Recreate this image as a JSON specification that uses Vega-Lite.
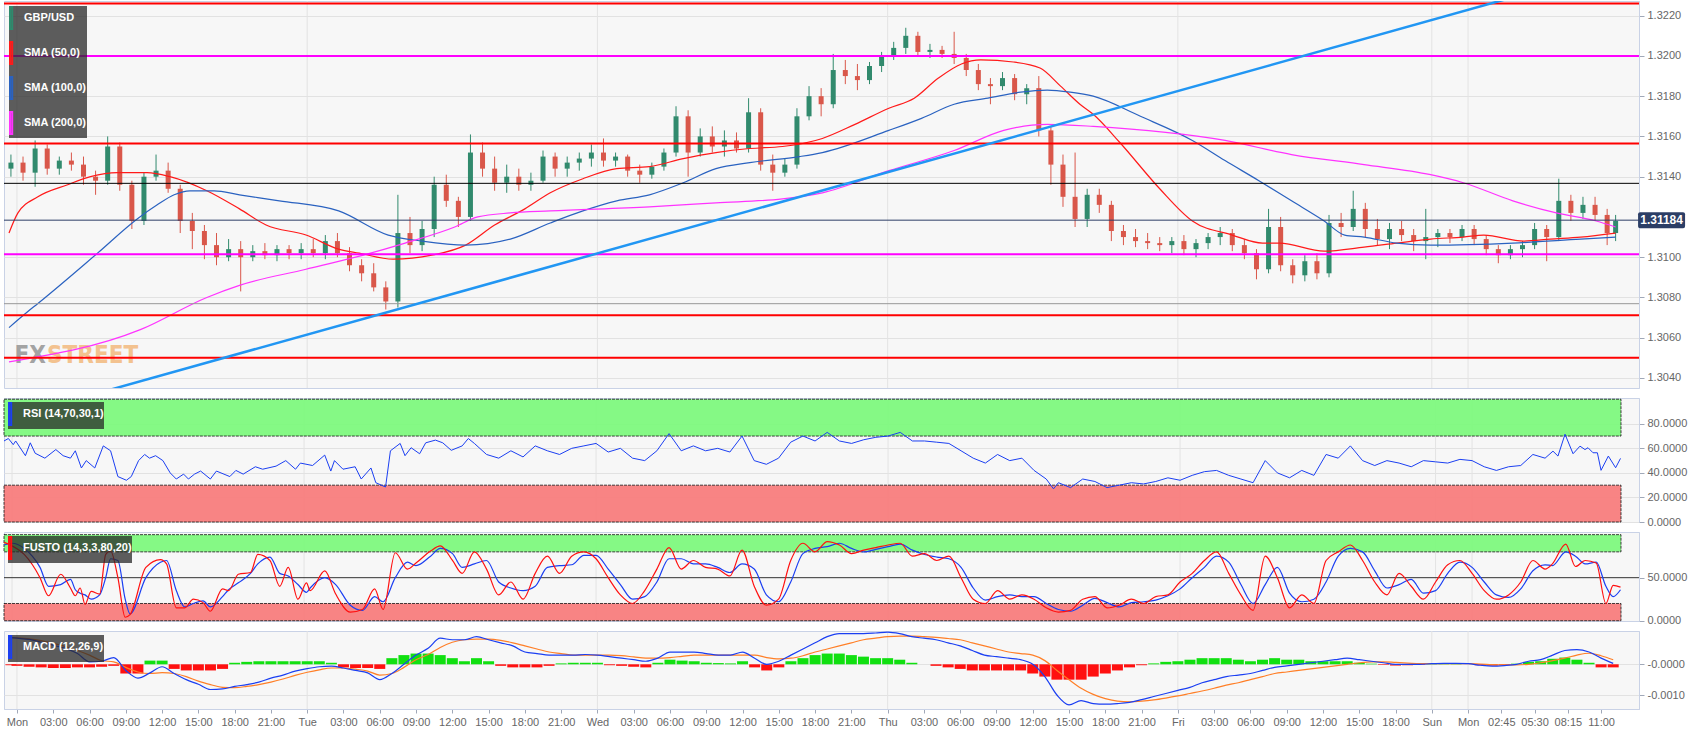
{
"$schema": "https://vega.github.io/schema/vega-lite/v6.json",
"padding": {"left": 1, "top": 0, "right": 5, "bottom": 5},
"background": "#ffffff",
"spacing": 10,
"bounds": "flush",
"resolve": {"scale": {"color": "independent"}, "legend": {"color": "independent"}},
"config": {
  "view": {"fill": "#f7f7f7", "stroke": "#c9d2e6", "strokeWidth": 1},
  "font": "Liberation Sans",
  "axis": {"labelFont": "Liberation Sans", "labelFontSize": 11, "labelColor": "#666666", "tickColor": "#a0a8b8", "tickSize": 5, "domainColor": "#c9d2e6", "gridColor": "#e2e2e2", "labelPadding": 3, "labelOverlap": false},
  "legend": {"padding": 0, "fillColor": "rgba(40,40,40,0.75)", "labelColor": "#ffffff", "labelFont": "Liberation Sans", "labelFontSize": 11, "labelFontWeight": "bold", "symbolSize": 484, "symbolStrokeWidth": 2, "labelOffset": -9, "rowPadding": 5}
},
"datasets": {
  "days": [{"h":0},{"h":24},{"h":48},{"h":72},{"h":96},{"h":117},{"h":120}],
  "candles": [
{"h":-0.5,"o":1.3144,"hi":1.3151,"lo":1.314,"c":1.3147},
{"h":0.5,"o":1.3147,"hi":1.315,"lo":1.3138,"c":1.3142},
{"h":1.5,"o":1.3142,"hi":1.3158,"lo":1.3135,"c":1.3154},
{"h":2.5,"o":1.3154,"hi":1.3156,"lo":1.3141,"c":1.3144},
{"h":3.5,"o":1.3144,"hi":1.315,"lo":1.3141,"c":1.3148},
{"h":4.5,"o":1.3148,"hi":1.3152,"lo":1.3143,"c":1.3146},
{"h":5.5,"o":1.3146,"hi":1.315,"lo":1.3136,"c":1.314},
{"h":6.5,"o":1.314,"hi":1.3143,"lo":1.3131,"c":1.3138},
{"h":7.5,"o":1.3138,"hi":1.316,"lo":1.3136,"c":1.3155},
{"h":8.5,"o":1.3155,"hi":1.3157,"lo":1.3133,"c":1.3136},
{"h":9.5,"o":1.3136,"hi":1.3138,"lo":1.3114,"c":1.3118},
{"h":10.5,"o":1.3118,"hi":1.3142,"lo":1.3116,"c":1.314},
{"h":11.5,"o":1.314,"hi":1.3151,"lo":1.3138,"c":1.3143},
{"h":12.5,"o":1.3143,"hi":1.3147,"lo":1.3132,"c":1.3134},
{"h":13.5,"o":1.3134,"hi":1.3136,"lo":1.3112,"c":1.3118},
{"h":14.5,"o":1.3118,"hi":1.3122,"lo":1.3104,"c":1.3113},
{"h":15.5,"o":1.3113,"hi":1.3116,"lo":1.3099,"c":1.3106},
{"h":16.5,"o":1.3106,"hi":1.3112,"lo":1.3096,"c":1.31},
{"h":17.5,"o":1.31,"hi":1.3109,"lo":1.3098,"c":1.3104},
{"h":18.5,"o":1.3104,"hi":1.3108,"lo":1.3083,"c":1.31},
{"h":19.5,"o":1.31,"hi":1.3106,"lo":1.3098,"c":1.3103},
{"h":20.5,"o":1.3103,"hi":1.3107,"lo":1.3099,"c":1.3101},
{"h":21.5,"o":1.3101,"hi":1.3106,"lo":1.3098,"c":1.3104},
{"h":22.5,"o":1.3104,"hi":1.3106,"lo":1.3099,"c":1.3102},
{"h":23.5,"o":1.3102,"hi":1.3107,"lo":1.3099,"c":1.3104},
{"h":24.5,"o":1.3104,"hi":1.3109,"lo":1.31,"c":1.3102},
{"h":25.5,"o":1.3102,"hi":1.3111,"lo":1.3099,"c":1.3108},
{"h":26.5,"o":1.3108,"hi":1.3112,"lo":1.31,"c":1.3102},
{"h":27.5,"o":1.3102,"hi":1.3105,"lo":1.3093,"c":1.3096},
{"h":28.5,"o":1.3096,"hi":1.3099,"lo":1.3088,"c":1.3092},
{"h":29.5,"o":1.3092,"hi":1.3097,"lo":1.3083,"c":1.3085},
{"h":30.5,"o":1.3085,"hi":1.3088,"lo":1.3074,"c":1.3078},
{"h":31.5,"o":1.3078,"hi":1.3131,"lo":1.3075,"c":1.3112},
{"h":32.5,"o":1.3112,"hi":1.312,"lo":1.3102,"c":1.3106},
{"h":33.5,"o":1.3106,"hi":1.3118,"lo":1.3103,"c":1.3114},
{"h":34.5,"o":1.3114,"hi":1.314,"lo":1.311,"c":1.3136},
{"h":35.5,"o":1.3136,"hi":1.3141,"lo":1.3125,"c":1.3128},
{"h":36.5,"o":1.3128,"hi":1.313,"lo":1.3115,"c":1.312},
{"h":37.5,"o":1.312,"hi":1.3161,"lo":1.3118,"c":1.3152},
{"h":38.5,"o":1.3152,"hi":1.3157,"lo":1.314,"c":1.3144},
{"h":39.5,"o":1.3144,"hi":1.315,"lo":1.3133,"c":1.3137},
{"h":40.5,"o":1.3137,"hi":1.3146,"lo":1.3132,"c":1.314},
{"h":41.5,"o":1.314,"hi":1.3144,"lo":1.3133,"c":1.3136},
{"h":42.5,"o":1.3136,"hi":1.3142,"lo":1.3133,"c":1.3138},
{"h":43.5,"o":1.3138,"hi":1.3153,"lo":1.3137,"c":1.315},
{"h":44.5,"o":1.315,"hi":1.3152,"lo":1.314,"c":1.3144},
{"h":45.5,"o":1.3144,"hi":1.315,"lo":1.314,"c":1.3147},
{"h":46.5,"o":1.3147,"hi":1.3152,"lo":1.3143,"c":1.3149},
{"h":47.5,"o":1.3149,"hi":1.3156,"lo":1.3145,"c":1.3152},
{"h":48.5,"o":1.3152,"hi":1.3159,"lo":1.3145,"c":1.3148},
{"h":49.5,"o":1.3148,"hi":1.3152,"lo":1.3145,"c":1.315},
{"h":50.5,"o":1.315,"hi":1.3151,"lo":1.314,"c":1.3143},
{"h":51.5,"o":1.3143,"hi":1.3146,"lo":1.3137,"c":1.3141},
{"h":52.5,"o":1.3141,"hi":1.3147,"lo":1.3139,"c":1.3145},
{"h":53.5,"o":1.3145,"hi":1.3154,"lo":1.3143,"c":1.3152},
{"h":54.5,"o":1.3152,"hi":1.3175,"lo":1.315,"c":1.317},
{"h":55.5,"o":1.317,"hi":1.3173,"lo":1.314,"c":1.3152},
{"h":56.5,"o":1.3152,"hi":1.3164,"lo":1.315,"c":1.316},
{"h":57.5,"o":1.316,"hi":1.3165,"lo":1.3152,"c":1.3155},
{"h":58.5,"o":1.3155,"hi":1.3163,"lo":1.315,"c":1.3158},
{"h":59.5,"o":1.3158,"hi":1.3162,"lo":1.3152,"c":1.3154},
{"h":60.5,"o":1.3154,"hi":1.3179,"lo":1.3152,"c":1.3172},
{"h":61.5,"o":1.3172,"hi":1.3174,"lo":1.3143,"c":1.3146},
{"h":62.5,"o":1.3146,"hi":1.3151,"lo":1.3133,"c":1.3142},
{"h":63.5,"o":1.3142,"hi":1.3149,"lo":1.314,"c":1.3146},
{"h":64.5,"o":1.3146,"hi":1.3174,"lo":1.3144,"c":1.317},
{"h":65.5,"o":1.317,"hi":1.3185,"lo":1.3168,"c":1.318},
{"h":66.5,"o":1.318,"hi":1.3184,"lo":1.317,"c":1.3176},
{"h":67.5,"o":1.3176,"hi":1.3201,"lo":1.3174,"c":1.3193},
{"h":68.5,"o":1.3193,"hi":1.3198,"lo":1.3186,"c":1.319},
{"h":69.5,"o":1.319,"hi":1.3196,"lo":1.3183,"c":1.3188},
{"h":70.5,"o":1.3188,"hi":1.3197,"lo":1.3186,"c":1.3195},
{"h":71.5,"o":1.3195,"hi":1.3202,"lo":1.3192,"c":1.32},
{"h":72.5,"o":1.32,"hi":1.3207,"lo":1.3198,"c":1.3204},
{"h":73.5,"o":1.3204,"hi":1.3214,"lo":1.3201,"c":1.321},
{"h":74.5,"o":1.321,"hi":1.3212,"lo":1.32,"c":1.3202},
{"h":75.5,"o":1.3202,"hi":1.3206,"lo":1.3199,"c":1.3203},
{"h":76.5,"o":1.3203,"hi":1.3205,"lo":1.3199,"c":1.3201},
{"h":77.5,"o":1.3201,"hi":1.3212,"lo":1.3196,"c":1.3199},
{"h":78.5,"o":1.3199,"hi":1.3201,"lo":1.319,"c":1.3193},
{"h":79.5,"o":1.3193,"hi":1.3196,"lo":1.3183,"c":1.3186},
{"h":80.5,"o":1.3186,"hi":1.3189,"lo":1.3176,"c":1.3185},
{"h":81.5,"o":1.3185,"hi":1.3192,"lo":1.3183,"c":1.3189},
{"h":82.5,"o":1.3189,"hi":1.3191,"lo":1.3178,"c":1.3181},
{"h":83.5,"o":1.3181,"hi":1.3186,"lo":1.3176,"c":1.3184},
{"h":84.5,"o":1.3184,"hi":1.319,"lo":1.316,"c":1.3163},
{"h":85.5,"o":1.3163,"hi":1.3165,"lo":1.3136,"c":1.3146},
{"h":86.5,"o":1.3146,"hi":1.3151,"lo":1.3125,"c":1.313},
{"h":87.5,"o":1.313,"hi":1.3152,"lo":1.3115,"c":1.3119},
{"h":88.5,"o":1.3119,"hi":1.3134,"lo":1.3115,"c":1.3131},
{"h":89.5,"o":1.3131,"hi":1.3134,"lo":1.3122,"c":1.3126},
{"h":90.5,"o":1.3126,"hi":1.3128,"lo":1.3108,"c":1.3113},
{"h":91.5,"o":1.3113,"hi":1.3116,"lo":1.3106,"c":1.311},
{"h":92.5,"o":1.311,"hi":1.3114,"lo":1.3105,"c":1.3108},
{"h":93.5,"o":1.3108,"hi":1.3112,"lo":1.3104,"c":1.3107},
{"h":94.5,"o":1.3107,"hi":1.311,"lo":1.3103,"c":1.3106},
{"h":95.5,"o":1.3106,"hi":1.311,"lo":1.3102,"c":1.3108},
{"h":96.5,"o":1.3108,"hi":1.3111,"lo":1.3101,"c":1.3104},
{"h":97.5,"o":1.3104,"hi":1.3109,"lo":1.31,"c":1.3107},
{"h":98.5,"o":1.3107,"hi":1.3112,"lo":1.3104,"c":1.311},
{"h":99.5,"o":1.311,"hi":1.3115,"lo":1.3106,"c":1.3112},
{"h":100.5,"o":1.3112,"hi":1.3114,"lo":1.3103,"c":1.3106},
{"h":101.5,"o":1.3106,"hi":1.3109,"lo":1.3099,"c":1.3102},
{"h":102.5,"o":1.3102,"hi":1.3104,"lo":1.3089,"c":1.3094},
{"h":103.5,"o":1.3094,"hi":1.3124,"lo":1.3092,"c":1.3115},
{"h":104.5,"o":1.3115,"hi":1.312,"lo":1.3093,"c":1.3096},
{"h":105.5,"o":1.3096,"hi":1.3099,"lo":1.3087,"c":1.3091},
{"h":106.5,"o":1.3091,"hi":1.3101,"lo":1.3088,"c":1.3098},
{"h":107.5,"o":1.3098,"hi":1.3102,"lo":1.3089,"c":1.3092},
{"h":108.5,"o":1.3092,"hi":1.3121,"lo":1.309,"c":1.3117},
{"h":109.5,"o":1.3117,"hi":1.3122,"lo":1.311,"c":1.3115},
{"h":110.5,"o":1.3115,"hi":1.3133,"lo":1.3113,"c":1.3124},
{"h":111.5,"o":1.3124,"hi":1.3127,"lo":1.311,"c":1.3114},
{"h":112.5,"o":1.3114,"hi":1.3119,"lo":1.3106,"c":1.3109},
{"h":113.5,"o":1.3109,"hi":1.3117,"lo":1.3104,"c":1.3114},
{"h":114.5,"o":1.3114,"hi":1.3118,"lo":1.3108,"c":1.3111},
{"h":115.5,"o":1.3111,"hi":1.3114,"lo":1.3103,"c":1.3108},
{"h":116.5,"o":1.3108,"hi":1.3124,"lo":1.3099,"c":1.311},
{"h":117.5,"o":1.311,"hi":1.3114,"lo":1.3105,"c":1.3112},
{"h":118.5,"o":1.3112,"hi":1.3114,"lo":1.3107,"c":1.311},
{"h":119.5,"o":1.311,"hi":1.3116,"lo":1.3108,"c":1.3114},
{"h":120.5,"o":1.3114,"hi":1.3116,"lo":1.3106,"c":1.3109},
{"h":121.5,"o":1.3109,"hi":1.3111,"lo":1.3101,"c":1.3104},
{"h":122.5,"o":1.3104,"hi":1.3106,"lo":1.3097,"c":1.3101},
{"h":123.5,"o":1.3101,"hi":1.3106,"lo":1.3099,"c":1.3104},
{"h":124.5,"o":1.3104,"hi":1.3108,"lo":1.31,"c":1.3106},
{"h":125.5,"o":1.3106,"hi":1.3117,"lo":1.3104,"c":1.3114},
{"h":126.5,"o":1.3114,"hi":1.3116,"lo":1.3098,"c":1.311},
{"h":127.5,"o":1.311,"hi":1.3139,"lo":1.3108,"c":1.3128},
{"h":128.5,"o":1.3128,"hi":1.3131,"lo":1.3118,"c":1.3122},
{"h":129.5,"o":1.3122,"hi":1.313,"lo":1.3119,"c":1.3126},
{"h":130.5,"o":1.3126,"hi":1.313,"lo":1.3118,"c":1.3121},
{"h":131.5,"o":1.3121,"hi":1.3124,"lo":1.3106,"c":1.3112},
{"h":132.2,"o":1.3112,"hi":1.3121,"lo":1.3108,"c":1.3118}
  ],
  "sma": [
{"s":"SMA (50,0)","h":-0.66,"v":1.3112},{"s":"SMA (50,0)","h":0.08,"v":1.3122},{"s":"SMA (50,0)","h":1.73,"v":1.313},{"s":"SMA (50,0)","h":4.19,"v":1.3136},{"s":"SMA (50,0)","h":6.08,"v":1.314},{"s":"SMA (50,0)","h":8.3,"v":1.3142},{"s":"SMA (50,0)","h":10.76,"v":1.3142},{"s":"SMA (50,0)","h":12.65,"v":1.314},{"s":"SMA (50,0)","h":15.7,"v":1.3133},{"s":"SMA (50,0)","h":18.4,"v":1.3124},{"s":"SMA (50,0)","h":20.6,"v":1.3116},{"s":"SMA (50,0)","h":23.9,"v":1.3111},{"s":"SMA (50,0)","h":26.6,"v":1.3104},{"s":"SMA (50,0)","h":28.3,"v":1.3102},{"s":"SMA (50,0)","h":31.1,"v":1.3099},{"s":"SMA (50,0)","h":34.3,"v":1.3101},{"s":"SMA (50,0)","h":37.1,"v":1.3106},{"s":"SMA (50,0)","h":39.5,"v":1.3116},{"s":"SMA (50,0)","h":42.0,"v":1.3124},{"s":"SMA (50,0)","h":44.1,"v":1.3132},{"s":"SMA (50,0)","h":46.8,"v":1.3139},{"s":"SMA (50,0)","h":49.6,"v":1.3144},{"s":"SMA (50,0)","h":52.3,"v":1.3145},{"s":"SMA (50,0)","h":55.1,"v":1.3149},{"s":"SMA (50,0)","h":57.8,"v":1.3152},{"s":"SMA (50,0)","h":60.6,"v":1.3154},{"s":"SMA (50,0)","h":63.3,"v":1.3155},{"s":"SMA (50,0)","h":66.6,"v":1.3159},{"s":"SMA (50,0)","h":69.3,"v":1.3166},{"s":"SMA (50,0)","h":72.1,"v":1.3174},{"s":"SMA (50,0)","h":74.2,"v":1.3179},{"s":"SMA (50,0)","h":76.2,"v":1.3189},{"s":"SMA (50,0)","h":78.1,"v":1.3196},{"s":"SMA (50,0)","h":79.7,"v":1.3198},{"s":"SMA (50,0)","h":82.4,"v":1.3197},{"s":"SMA (50,0)","h":84.6,"v":1.3194},{"s":"SMA (50,0)","h":86.3,"v":1.3185},{"s":"SMA (50,0)","h":87.9,"v":1.3176},{"s":"SMA (50,0)","h":89.0,"v":1.3171},{"s":"SMA (50,0)","h":91.2,"v":1.3157},{"s":"SMA (50,0)","h":94.5,"v":1.3134},{"s":"SMA (50,0)","h":97.2,"v":1.3118},{"s":"SMA (50,0)","h":100.5,"v":1.3111},{"s":"SMA (50,0)","h":103.0,"v":1.3107},{"s":"SMA (50,0)","h":104.4,"v":1.3107},{"s":"SMA (50,0)","h":108.1,"v":1.3103},{"s":"SMA (50,0)","h":111.4,"v":1.3105},{"s":"SMA (50,0)","h":114.1,"v":1.3107},{"s":"SMA (50,0)","h":116.9,"v":1.3109},{"s":"SMA (50,0)","h":119.6,"v":1.311},{"s":"SMA (50,0)","h":121.3,"v":1.3111},{"s":"SMA (50,0)","h":124.6,"v":1.3108},{"s":"SMA (50,0)","h":126.8,"v":1.3109},{"s":"SMA (50,0)","h":129.3,"v":1.311},{"s":"SMA (50,0)","h":132.2,"v":1.3112},
{"s":"SMA (100,0)","h":-0.66,"v":1.3065},{"s":"SMA (100,0)","h":0.9,"v":1.3073},{"s":"SMA (100,0)","h":1.73,"v":1.3077},{"s":"SMA (100,0)","h":6.66,"v":1.3102},{"s":"SMA (100,0)","h":9.94,"v":1.3119},{"s":"SMA (100,0)","h":11.6,"v":1.3126},{"s":"SMA (100,0)","h":13.0,"v":1.3131},{"s":"SMA (100,0)","h":14.3,"v":1.3133},{"s":"SMA (100,0)","h":16.3,"v":1.3133},{"s":"SMA (100,0)","h":18.4,"v":1.3131},{"s":"SMA (100,0)","h":21.7,"v":1.3128},{"s":"SMA (100,0)","h":26.6,"v":1.3123},{"s":"SMA (100,0)","h":30.7,"v":1.3111},{"s":"SMA (100,0)","h":33.5,"v":1.3108},{"s":"SMA (100,0)","h":37.1,"v":1.3106},{"s":"SMA (100,0)","h":40.8,"v":1.3109},{"s":"SMA (100,0)","h":44.1,"v":1.3117},{"s":"SMA (100,0)","h":46.8,"v":1.3123},{"s":"SMA (100,0)","h":49.6,"v":1.3128},{"s":"SMA (100,0)","h":52.3,"v":1.3131},{"s":"SMA (100,0)","h":55.1,"v":1.3137},{"s":"SMA (100,0)","h":57.8,"v":1.3144},{"s":"SMA (100,0)","h":60.6,"v":1.3147},{"s":"SMA (100,0)","h":64.7,"v":1.315},{"s":"SMA (100,0)","h":66.6,"v":1.3152},{"s":"SMA (100,0)","h":72.1,"v":1.3163},{"s":"SMA (100,0)","h":74.8,"v":1.3169},{"s":"SMA (100,0)","h":77.5,"v":1.3176},{"s":"SMA (100,0)","h":80.3,"v":1.3179},{"s":"SMA (100,0)","h":83.0,"v":1.3182},{"s":"SMA (100,0)","h":85.2,"v":1.3183},{"s":"SMA (100,0)","h":87.1,"v":1.3182},{"s":"SMA (100,0)","h":89.0,"v":1.318},{"s":"SMA (100,0)","h":92.9,"v":1.317},{"s":"SMA (100,0)","h":97.2,"v":1.3158},{"s":"SMA (100,0)","h":99.9,"v":1.3148},{"s":"SMA (100,0)","h":102.7,"v":1.3138},{"s":"SMA (100,0)","h":105.4,"v":1.3128},{"s":"SMA (100,0)","h":108.1,"v":1.3118},{"s":"SMA (100,0)","h":109.8,"v":1.3111},{"s":"SMA (100,0)","h":111.4,"v":1.311},{"s":"SMA (100,0)","h":114.1,"v":1.3107},{"s":"SMA (100,0)","h":116.9,"v":1.3106},{"s":"SMA (100,0)","h":123.7,"v":1.3107},{"s":"SMA (100,0)","h":129.3,"v":1.3109},{"s":"SMA (100,0)","h":132.2,"v":1.311},
{"s":"SMA (200,0)","h":-0.66,"v":1.3048},{"s":"SMA (200,0)","h":10.2,"v":1.3064},{"s":"SMA (200,0)","h":15.7,"v":1.308},{"s":"SMA (200,0)","h":18.4,"v":1.3086},{"s":"SMA (200,0)","h":23.9,"v":1.3094},{"s":"SMA (200,0)","h":28.0,"v":1.31},{"s":"SMA (200,0)","h":32.1,"v":1.3107},{"s":"SMA (200,0)","h":36.2,"v":1.3115},{"s":"SMA (200,0)","h":38.1,"v":1.312},{"s":"SMA (200,0)","h":40.8,"v":1.3122},{"s":"SMA (200,0)","h":44.1,"v":1.3123},{"s":"SMA (200,0)","h":52.3,"v":1.3125},{"s":"SMA (200,0)","h":57.8,"v":1.3127},{"s":"SMA (200,0)","h":63.3,"v":1.3129},{"s":"SMA (200,0)","h":66.6,"v":1.3132},{"s":"SMA (200,0)","h":72.1,"v":1.3143},{"s":"SMA (200,0)","h":77.5,"v":1.3153},{"s":"SMA (200,0)","h":81.6,"v":1.3163},{"s":"SMA (200,0)","h":85.2,"v":1.3166},{"s":"SMA (200,0)","h":89.0,"v":1.3165},{"s":"SMA (200,0)","h":99.9,"v":1.3158},{"s":"SMA (200,0)","h":105.4,"v":1.3151},{"s":"SMA (200,0)","h":111.4,"v":1.3146},{"s":"SMA (200,0)","h":116.9,"v":1.3141},{"s":"SMA (200,0)","h":119.6,"v":1.3137},{"s":"SMA (200,0)","h":123.7,"v":1.3128},{"s":"SMA (200,0)","h":127.3,"v":1.3122},{"s":"SMA (200,0)","h":130.6,"v":1.3118},{"s":"SMA (200,0)","h":132.2,"v":1.3115}
  ],
  "rsi": [
{"h":-0.66,"v":66},{"h":-0.3,"v":68},{"h":0.1,"v":63},{"h":0.3,"v":66},{"h":1.1,"v":54},{"h":1.5,"v":64.5},{"h":1.9,"v":56},{"h":2.7,"v":52},{"h":3.6,"v":59},{"h":4.2,"v":54},{"h":4.8,"v":52},{"h":5.2,"v":58},{"h":5.7,"v":44},{"h":6.1,"v":50},{"h":6.8,"v":44},{"h":7.5,"v":62},{"h":8.1,"v":58},{"h":8.7,"v":37},{"h":9.4,"v":34},{"h":9.8,"v":37},{"h":10.4,"v":50},{"h":10.9,"v":55},{"h":11.3,"v":52},{"h":11.8,"v":54},{"h":12.4,"v":50},{"h":13.0,"v":40},{"h":13.5,"v":35},{"h":14.1,"v":39},{"h":14.5,"v":35},{"h":15.0,"v":39},{"h":15.5,"v":41.5},{"h":16.3,"v":35},{"h":16.8,"v":41.5},{"h":17.9,"v":37},{"h":18.4,"v":42},{"h":19.0,"v":39},{"h":20.0,"v":45},{"h":20.6,"v":43},{"h":21.7,"v":45.5},{"h":22.5,"v":50},{"h":23.3,"v":43},{"h":23.7,"v":48},{"h":24.7,"v":46},{"h":25.7,"v":54.5},{"h":26.2,"v":41.5},{"h":26.5,"v":50},{"h":27.2,"v":43},{"h":28.2,"v":45},{"h":28.7,"v":35},{"h":29.5,"v":44},{"h":29.9,"v":32},{"h":30.7,"v":28.5},{"h":31.1,"v":58},{"h":31.9,"v":64},{"h":32.3,"v":54},{"h":32.8,"v":60.5},{"h":33.5,"v":55.6},{"h":34.0,"v":64.5},{"h":34.8,"v":66.7},{"h":35.4,"v":64.5},{"h":36.1,"v":58.4},
{"h":37,"v":62},{"h":37.5,"v":68},{"h":38,"v":64},{"h":39,"v":55},{"h":40,"v":52},{"h":41,"v":58},{"h":42,"v":53},{"h":43,"v":62},{"h":44,"v":58},{"h":45,"v":55},{"h":46,"v":60},{"h":47,"v":62},{"h":48,"v":64},{"h":49,"v":57},{"h":50,"v":60},{"h":51,"v":52},{"h":52,"v":50},{"h":53,"v":58},{"h":54,"v":72},{"h":55,"v":58},{"h":56,"v":62},{"h":57,"v":58},{"h":58,"v":60},{"h":59,"v":57},{"h":60,"v":70},{"h":61,"v":50},{"h":62,"v":47},{"h":63,"v":52},{"h":64,"v":65},{"h":65,"v":70},{"h":66,"v":66},{"h":67,"v":73},{"h":68,"v":66},{"h":69,"v":64},{"h":70,"v":67},{"h":71,"v":69},{"h":72,"v":70},{"h":73,"v":73},{"h":74,"v":66},{"h":75,"v":66},{"h":76,"v":65},{"h":77,"v":64},{"h":78,"v":58},{"h":79,"v":52},{"h":80,"v":48},{"h":81,"v":55},{"h":82,"v":50},{"h":83,"v":52},{"h":84,"v":42},{"h":85,"v":35},{"h":85.6,"v":27},{"h":86,"v":32},{"h":87,"v":28},{"h":88,"v":35},{"h":89,"v":33},{"h":90,"v":28},{"h":91,"v":30},{"h":92,"v":32},{"h":93,"v":31},{"h":94,"v":33},{"h":95,"v":36},{"h":96,"v":34},{"h":97,"v":38},{"h":98,"v":41},{"h":99,"v":42},{"h":100,"v":38},{"h":101,"v":35},{"h":102,"v":32},{"h":103,"v":50},{"h":104,"v":40},{"h":105,"v":36},{"h":106,"v":42},{"h":107,"v":38},{"h":108,"v":55},{"h":109,"v":52},{"h":110,"v":62},{"h":111,"v":50},{"h":112,"v":46},{"h":113,"v":50},{"h":114,"v":48},{"h":115,"v":45},{"h":116,"v":50},{"h":117,"v":49},{"h":118,"v":48},{"h":119,"v":51},{"h":120,"v":50},{"h":121,"v":45},{"h":122,"v":42},{"h":123,"v":45},{"h":124,"v":46},{"h":125,"v":55},{"h":126,"v":52},{"h":126.65,"v":57.7},{"h":127.06,"v":53.7},{"h":127.64,"v":71.5},{"h":128.3,"v":55.6},{"h":128.87,"v":61.8},{"h":129.28,"v":59},{"h":129.53,"v":60.5},{"h":129.94,"v":56.4},{"h":130.3,"v":56.4},{"h":130.6,"v":42.1},{"h":131.2,"v":53.7},{"h":131.8,"v":44.2},{"h":132.2,"v":51.8}
  ],
  "sto": [
{"h":-0.66,"k":91,"d":88},{"h":0,"k":87,"d":90},{"h":1.0,"k":77,"d":84},{"h":2.3,"k":50,"d":62},{"h":3.0,"k":29,"d":40},{"h":4.0,"k":54,"d":42},{"h":4.8,"k":38,"d":48},{"h":5.2,"k":29,"d":36},{"h":5.6,"k":38,"d":32},{"h":6.0,"k":19,"d":30},{"h":6.5,"k":34,"d":25},{"h":7.2,"k":31,"d":30},{"h":7.7,"k":77,"d":50},{"h":8.1,"k":81,"d":72},{"h":8.7,"k":50,"d":70},{"h":9.3,"k":4,"d":25},{"h":9.7,"k":7,"d":8},{"h":11.0,"k":62,"d":50},{"h":12.2,"k":71,"d":68},{"h":12.7,"k":66,"d":70},{"h":13.5,"k":15,"d":35},{"h":14.2,"k":15,"d":16},{"h":14.9,"k":25,"d":20},{"h":15.7,"k":21,"d":23},{"h":16.3,"k":11,"d":16},{"h":17.3,"k":37,"d":28},{"h":17.8,"k":35,"d":36},{"h":18.6,"k":54,"d":44},{"h":19.6,"k":56,"d":55},{"h":20.2,"k":77,"d":66},{"h":21.2,"k":70,"d":74},{"h":22.0,"k":40,"d":55},{"h":22.7,"k":62,"d":52},{"h":23.5,"k":25,"d":42},{"h":24.2,"k":44,"d":33},{"h":24.5,"k":35,"d":38},{"h":25.7,"k":58,"d":50},{"h":26.6,"k":31,"d":42},{"h":27.8,"k":10,"d":18},{"h":28.8,"k":13,"d":12},{"h":29.8,"k":37,"d":28},{"h":30.5,"k":13,"d":22},{"h":31.5,"k":79,"d":50},{"h":32.5,"k":60,"d":68},{"h":33.2,"k":67,"d":64},{"h":34.4,"k":81,"d":75},{"h":35.2,"k":87,"d":84},{"h":36.2,"k":70,"d":78},
{"h":37,"k":55,"d":62},{"h":38,"k":80,"d":66},{"h":39,"k":60,"d":70},{"h":40,"k":30,"d":45},{"h":41,"k":45,"d":38},{"h":42,"k":25,"d":35},{"h":43,"k":55,"d":40},{"h":44,"k":75,"d":62},{"h":45,"k":55,"d":64},{"h":46,"k":75,"d":65},{"h":47,"k":80,"d":76},{"h":48,"k":72,"d":76},{"h":49,"k":50,"d":60},{"h":50,"k":30,"d":42},{"h":51,"k":20,"d":25},{"h":52,"k":35,"d":28},{"h":53,"k":60,"d":45},{"h":54,"k":85,"d":72},{"h":55,"k":60,"d":72},{"h":56,"k":70,"d":66},{"h":57,"k":62,"d":66},{"h":58,"k":60,"d":62},{"h":59,"k":52,"d":56},{"h":60,"k":82,"d":66},{"h":61,"k":40,"d":60},{"h":62,"k":18,"d":30},{"h":63,"k":25,"d":22},{"h":64,"k":70,"d":45},{"h":65,"k":90,"d":78},{"h":66,"k":80,"d":84},{"h":67,"k":92,"d":86},{"h":68,"k":88,"d":90},{"h":69,"k":78,"d":84},{"h":70,"k":82,"d":80},{"h":71,"k":85,"d":83},{"h":72,"k":88,"d":86},{"h":73,"k":90,"d":89},{"h":74,"k":75,"d":82},{"h":75,"k":78,"d":77},{"h":76,"k":70,"d":74},{"h":77,"k":75,"d":72},{"h":78,"k":50,"d":62},{"h":79,"k":25,"d":38},{"h":80,"k":20,"d":24},{"h":81,"k":35,"d":28},{"h":82,"k":25,"d":30},{"h":83,"k":30,"d":28},{"h":84,"k":25,"d":28},{"h":85,"k":15,"d":20},{"h":86,"k":10,"d":13},{"h":87,"k":12,"d":11},{"h":88,"k":25,"d":18},{"h":89,"k":28,"d":26},{"h":90,"k":15,"d":21},{"h":91,"k":18,"d":16},{"h":92,"k":25,"d":21},{"h":93,"k":20,"d":22},{"h":94,"k":28,"d":24},{"h":95,"k":30,"d":29},{"h":96,"k":45,"d":37},{"h":97,"k":55,"d":50},{"h":98,"k":70,"d":62},{"h":99,"k":80,"d":75},{"h":100,"k":55,"d":68},{"h":101,"k":30,"d":42},{"h":102,"k":12,"d":20},{"h":103,"k":75,"d":42},{"h":104,"k":50,"d":62},{"h":105,"k":15,"d":32},{"h":106,"k":30,"d":22},{"h":107,"k":20,"d":25},{"h":108,"k":70,"d":45},{"h":109,"k":80,"d":75},{"h":110,"k":88,"d":84},{"h":111,"k":70,"d":80},{"h":112,"k":45,"d":58},{"h":113,"k":30,"d":38},{"h":114,"k":55,"d":42},{"h":115,"k":40,"d":48},{"h":116,"k":25,"d":32},{"h":117,"k":45,"d":35},{"h":118,"k":65,"d":55},{"h":119,"k":70,"d":68},{"h":120,"k":55,"d":62},{"h":121,"k":35,"d":45},{"h":122,"k":25,"d":30},{"h":123,"k":30,"d":27},{"h":124,"k":45,"d":37},{"h":125,"k":70,"d":58},{"h":126,"k":60,"d":65},{"h":126.6,"k":66,"d":64},{"h":127.7,"k":89,"d":80},{"h":128.5,"k":63,"d":75},{"h":129.3,"k":70,"d":66},{"h":130.2,"k":67,"d":68},{"h":131.0,"k":20,"d":40},{"h":131.6,"k":41,"d":28},{"h":132.2,"k":39,"d":36}
  ],
  "macd": [
{"h":-0.5,"m":0.00087,"s":0.00087,"b":-0.00003},{"h":0,"m":0.00085,"s":0.00086,"b":-0.00005},{"h":1,"m":0.00081,"s":0.00083,"b":-0.00008},{"h":2,"m":0.00072,"s":0.00077,"b":-0.0001},{"h":3,"m":0.00062,"s":0.00068,"b":-0.00012},{"h":4,"m":0.00052,"s":0.00058,"b":-0.00012},{"h":5,"m":0.00035,"s":0.00045,"b":-0.0001},{"h":6,"m":0.00008,"s":0.0003,"b":-0.0001},{"h":7,"m":0.0001,"s":0.00012,"b":-0.00008},{"h":8,"m":0.00022,"s":0.00008,"b":-0.00005},{"h":9,"m":-0.0002,"s":-0.0001,"b":-0.0003},{"h":10,"m":-0.00045,"s":-0.00025,"b":-0.0003},{"h":11,"m":-0.00028,"s":-0.0003,"b":0.00012},{"h":12,"m":-0.00008,"s":-0.00027,"b":0.00012},{"h":13,"m":-0.0003,"s":-0.0003,"b":-0.00015},{"h":14,"m":-0.0005,"s":-0.0004,"b":-0.0002},{"h":15,"m":-0.00065,"s":-0.00055,"b":-0.0002},{"h":16,"m":-0.00082,"s":-0.00066,"b":-0.0002},{"h":17,"m":-0.0008,"s":-0.00075,"b":-0.00015},{"h":18,"m":-0.00072,"s":-0.00076,"b":0.00005},{"h":19,"m":-0.00066,"s":-0.00072,"b":0.00008},{"h":20,"m":-0.00058,"s":-0.00066,"b":0.0001},{"h":21,"m":-0.00045,"s":-0.00058,"b":0.0001},{"h":22,"m":-0.00035,"s":-0.00048,"b":0.0001},{"h":23,"m":-0.00022,"s":-0.00036,"b":0.0001},{"h":24,"m":-0.00014,"s":-0.00026,"b":0.0001},{"h":25,"m":-0.00008,"s":-0.00018,"b":0.0001},{"h":26,"m":-0.00006,"s":-0.00012,"b":0.00005},{"h":27,"m":-0.00012,"s":-0.00012,"b":-0.0001},{"h":28,"m":-0.0002,"s":-0.00016,"b":-0.00012},{"h":29,"m":-0.00028,"s":-0.00022,"b":-0.00012},{"h":30,"m":-0.0005,"s":-0.00035,"b":-0.00015},{"h":31,"m":-0.0003,"s":-0.0003,"b":0.0002},{"h":32,"m":0.0,"s":-0.0001,"b":0.0003},{"h":33,"m":0.0003,"s":0.00015,"b":0.00035},{"h":34,"m":0.00052,"s":0.00032,"b":0.00035},{"h":35,"m":0.00085,"s":0.00055,"b":0.0003},{"h":36,"m":0.0008,"s":0.00072,"b":0.0002},
{"h":37,"m":0.0008,"s":0.0008,"b":0.0001},{"h":38,"m":0.0009,"s":0.00082,"b":0.0002},{"h":39,"m":0.0008,"s":0.00082,"b":0.0001},{"h":40,"m":0.0007,"s":0.00078,"b":-0.00005},{"h":41,"m":0.0006,"s":0.0007,"b":-0.0001},{"h":42,"m":0.0004,"s":0.0006,"b":-0.0001},{"h":43,"m":0.00035,"s":0.0005,"b":-0.0001},{"h":44,"m":0.0003,"s":0.0004,"b":-0.00005},{"h":45,"m":0.0003,"s":0.00035,"b":0.00003},{"h":46,"m":0.0003,"s":0.0003,"b":0.00005},{"h":47,"m":0.00032,"s":0.0003,"b":0.00005},{"h":48,"m":0.0003,"s":0.0003,"b":0.00005},{"h":49,"m":0.00025,"s":0.0003,"b":-0.00003},{"h":50,"m":0.0002,"s":0.00028,"b":-0.00005},{"h":51,"m":0.00015,"s":0.00024,"b":-0.00008},{"h":52,"m":0.0001,"s":0.0002,"b":-0.0001},{"h":53,"m":0.0002,"s":0.0002,"b":0.00005},{"h":54,"m":0.0004,"s":0.00022,"b":0.00015},{"h":55,"m":0.0004,"s":0.00026,"b":0.00012},{"h":56,"m":0.0004,"s":0.0003,"b":0.0001},{"h":57,"m":0.00035,"s":0.0003,"b":0.00005},{"h":58,"m":0.0003,"s":0.0003,"b":0.00004},{"h":59,"m":0.0003,"s":0.0003,"b":0.00003},{"h":60,"m":0.0004,"s":0.0003,"b":0.0001},{"h":61,"m":0.0002,"s":0.0003,"b":-0.0001},{"h":62,"m":0.0,"s":0.00022,"b":-0.0002},{"h":63,"m":0.0001,"s":0.00018,"b":-0.0001},{"h":64,"m":0.0003,"s":0.0002,"b":0.0001},{"h":65,"m":0.0005,"s":0.00028,"b":0.0002},{"h":66,"m":0.0007,"s":0.0004,"b":0.0003},{"h":67,"m":0.0009,"s":0.0005,"b":0.00035},{"h":68,"m":0.001,"s":0.0006,"b":0.00035},{"h":69,"m":0.001,"s":0.0007,"b":0.0003},{"h":70,"m":0.001,"s":0.0008,"b":0.00025},{"h":71,"m":0.00102,"s":0.00085,"b":0.0002},{"h":72,"m":0.00105,"s":0.0009,"b":0.0002},{"h":73,"m":0.001,"s":0.00092,"b":0.00015},{"h":74,"m":0.0009,"s":0.00092,"b":0.00005},{"h":75,"m":0.00085,"s":0.0009,"b":0.0},{"h":76,"m":0.0008,"s":0.00088,"b":-0.00005},{"h":77,"m":0.0007,"s":0.00084,"b":-0.0001},{"h":78,"m":0.0006,"s":0.0008,"b":-0.00015},{"h":79,"m":0.00045,"s":0.0007,"b":-0.0002},{"h":80,"m":0.0003,"s":0.0006,"b":-0.0002},{"h":81,"m":0.00025,"s":0.0005,"b":-0.0002},{"h":82,"m":0.0002,"s":0.0004,"b":-0.0002},{"h":83,"m":0.00015,"s":0.00035,"b":-0.0002},{"h":84,"m":0.0,"s":0.0003,"b":-0.0003},{"h":85,"m":-0.0004,"s":0.00012,"b":-0.0004},{"h":86,"m":-0.001,"s":-0.0002,"b":-0.0005},{"h":87,"m":-0.00132,"s":-0.0005,"b":-0.0005},{"h":88,"m":-0.00118,"s":-0.00078,"b":-0.0005},{"h":89,"m":-0.00128,"s":-0.00098,"b":-0.0004},{"h":90,"m":-0.0013,"s":-0.00112,"b":-0.0003},{"h":91,"m":-0.00128,"s":-0.0012,"b":-0.0002},{"h":92,"m":-0.00124,"s":-0.00122,"b":-0.0001},{"h":93,"m":-0.00115,"s":-0.0012,"b":-0.00003},{"h":94,"m":-0.00105,"s":-0.00116,"b":0.00003},{"h":95,"m":-0.00095,"s":-0.0011,"b":0.00008},{"h":96,"m":-0.00085,"s":-0.00103,"b":0.0001},{"h":97,"m":-0.00075,"s":-0.00095,"b":0.00015},{"h":98,"m":-0.0006,"s":-0.00087,"b":0.0002},{"h":99,"m":-0.0005,"s":-0.00078,"b":0.0002},{"h":100,"m":-0.0004,"s":-0.00068,"b":0.0002},{"h":101,"m":-0.00035,"s":-0.0006,"b":0.00015},{"h":102,"m":-0.0003,"s":-0.0005,"b":0.0001},{"h":103,"m":-0.0002,"s":-0.0004,"b":0.00015},{"h":104,"m":-0.0001,"s":-0.0003,"b":0.0002},{"h":105,"m":-0.00005,"s":-0.00025,"b":0.00015},{"h":106,"m":0.0,"s":-0.0002,"b":0.00015},{"h":107,"m":0.00005,"s":-0.00015,"b":0.0001},{"h":108,"m":0.0001,"s":-0.0001,"b":0.0001},{"h":109,"m":0.00015,"s":-0.00005,"b":0.0001},{"h":110,"m":0.0002,"s":0.0,"b":0.0001},{"h":111,"m":0.00015,"s":0.00005,"b":0.00005},{"h":112,"m":0.0001,"s":0.00008,"b":0.00002},{"h":113,"m":0.00005,"s":0.00008,"b":-0.00002},{"h":114,"m":0.0,"s":0.00006,"b":-0.00004},{"h":115,"m":0.0,"s":0.00004,"b":-0.00003},{"h":116,"m":0.0,"s":0.00002,"b":-0.00002},{"h":117,"m":0.00002,"s":0.00002,"b":0.00001},{"h":118,"m":0.00003,"s":0.00002,"b":0.00002},{"h":119,"m":0.00003,"s":0.00002,"b":0.00002},{"h":120,"m":0.00002,"s":0.00002,"b":0.0},{"h":121,"m":-0.00003,"s":0.00001,"b":-0.00003},{"h":122,"m":-0.00006,"s":-0.00001,"b":-0.00004},{"h":123,"m":-0.00004,"s":-0.00002,"b":-0.00002},{"h":124,"m":0.0,"s":-0.00002,"b":0.00002},{"h":125,"m":0.0001,"s":0.0,"b":0.00008},{"h":126,"m":0.00015,"s":0.00005,"b":0.0001},{"h":127,"m":0.0003,"s":0.00012,"b":0.00018},{"h":128,"m":0.00045,"s":0.0002,"b":0.00022},{"h":129,"m":0.00048,"s":0.0003,"b":0.00015},{"h":130,"m":0.0004,"s":0.00036,"b":0.00005},{"h":131,"m":0.0002,"s":0.00028,"b":-0.0001},{"h":132,"m":0.00003,"s":0.00015,"b":-0.0001}
  ]
},
"vconcat": [
{
  "width": 1635, "height": 387,
  "layer": [
    {"data": {"name": "days"}, "mark": {"type": "rule", "color": "#e3e3e3", "strokeWidth": 1},
     "encoding": {"x": {"field": "h", "type": "quantitative", "scale": {"domain": [-0.66, 133.72], "nice": false, "zero": false}, "axis": null}}},
    {"data": {"values": [{"w": "FX"}]}, "mark": {"type": "text", "font": "DejaVu Sans Condensed", "fontSize": 24, "fontWeight": "bold", "color": "#9a9a9a", "opacity": 0.9, "align": "right", "baseline": "middle"},
     "encoding": {"text": {"field": "w"}, "x": {"datum": 2.4, "type": "quantitative", "scale": {"domain": [-0.66, 133.72], "nice": false, "zero": false}, "axis": null}, "y": {"datum": 1.3051, "type": "quantitative", "scale": {"domain": [1.3035, 1.32273], "nice": false, "zero": false}}}},
    {"data": {"values": [{"w": "STREET"}]}, "mark": {"type": "text", "font": "DejaVu Sans Condensed", "fontSize": 24, "fontWeight": "bold", "color": "#f3bd84", "opacity": 0.9, "align": "left", "baseline": "middle", "dx": 1},
     "encoding": {"text": {"field": "w"}, "x": {"datum": 2.4, "type": "quantitative", "scale": {"domain": [-0.66, 133.72], "nice": false, "zero": false}, "axis": null}, "y": {"datum": 1.3051, "type": "quantitative", "scale": {"domain": [1.3035, 1.32273], "nice": false, "zero": false}}}},
    {"data": {"name": "candles"}, "mark": {"type": "rule", "strokeWidth": 1},
     "encoding": {
       "x": {"field": "h", "type": "quantitative", "scale": {"domain": [-0.66, 133.72], "nice": false, "zero": false}, "axis": null},
       "y": {"field": "lo", "type": "quantitative", "scale": {"domain": [1.3035, 1.32273], "nice": false, "zero": false},
             "axis": {"orient": "right", "title": null, "values": [1.304, 1.306, 1.308, 1.31, 1.314, 1.316, 1.318, 1.32, 1.322], "format": ".4f", "grid": true, "labelOverlap": false}},
       "y2": {"field": "hi"},
       "color": {"condition": {"test": "datum.c >= datum.o", "value": "#318a6d"}, "value": "#d9574a"}}},
    {"data": {"name": "candles"}, "mark": {"type": "bar", "width": 5},
     "encoding": {
       "x": {"field": "h", "type": "quantitative", "scale": {"domain": [-0.66, 133.72], "nice": false, "zero": false}, "axis": null},
       "y": {"field": "o", "type": "quantitative", "scale": {"domain": [1.3035, 1.32273], "nice": false, "zero": false}},
       "y2": {"field": "c"},
       "color": {"condition": {"test": "datum.c >= datum.o", "value": "#318a6d"}, "value": "#d9574a"}}},
    {"data": {"name": "sma"}, "mark": {"type": "line", "strokeWidth": 1.2, "interpolate": "monotone"},
     "encoding": {
       "x": {"field": "h", "type": "quantitative", "scale": {"domain": [-0.66, 133.72], "nice": false, "zero": false}, "axis": null},
       "y": {"field": "v", "type": "quantitative", "scale": {"domain": [1.3035, 1.32273], "nice": false, "zero": false}},
       "color": {"field": "s", "type": "nominal",
         "scale": {"domain": ["GBP/USD", "SMA (50,0)", "SMA (100,0)", "SMA (200,0)"], "range": ["#2e8b6d", "#ff1a1a", "#2a62c0", "#ff33ff"]},
         "legend": {"title": null, "orient": "top-left", "offset": 5, "symbolType": "M-1,-1H-0.8V1H-1Z", "labelExpr": "datum.label + '\u2002\u2002\u2002'"}}}},
    {"data": {"values": [{"p": 1.3226}, {"p": 1.31565}, {"p": 1.30712}, {"p": 1.305}]}, "mark": {"type": "rule", "color": "#ff0000", "strokeWidth": 2},
     "encoding": {"y": {"field": "p", "type": "quantitative", "scale": {"domain": [1.3035, 1.32273], "nice": false, "zero": false}}}},
    {"data": {"values": [{"p": 1.32}, {"p": 1.31015}]}, "mark": {"type": "rule", "color": "#ff00ff", "strokeWidth": 2},
     "encoding": {"y": {"field": "p", "type": "quantitative", "scale": {"domain": [1.3035, 1.32273], "nice": false, "zero": false}}}},
    {"data": {"values": [{"p": 1.31367}]}, "mark": {"type": "rule", "color": "#000000", "strokeWidth": 1},
     "encoding": {"y": {"field": "p", "type": "quantitative", "scale": {"domain": [1.3035, 1.32273], "nice": false, "zero": false}}}},
    {"data": {"values": [{"p": 1.31184}]}, "mark": {"type": "rule", "color": "#2c3e66", "strokeWidth": 1},
     "encoding": {"y": {"field": "p", "type": "quantitative", "scale": {"domain": [1.3035, 1.32273], "nice": false, "zero": false}}}},
    {"data": {"values": [{"p": 1.30769}]}, "mark": {"type": "rule", "color": "#999999", "strokeWidth": 1},
     "encoding": {"y": {"field": "p", "type": "quantitative", "scale": {"domain": [1.3035, 1.32273], "nice": false, "zero": false}}}},
    {"data": {"values": [{"h1": 7.5, "p1": 1.30338, "h2": 123.5, "p2": 1.32288}]}, "mark": {"type": "rule", "color": "#2196f3", "strokeWidth": 2.5, "clip": true},
     "encoding": {
       "x": {"field": "h1", "type": "quantitative", "scale": {"domain": [-0.66, 133.72], "nice": false, "zero": false}, "axis": null},
       "y": {"field": "p1", "type": "quantitative", "scale": {"domain": [1.3035, 1.32273], "nice": false, "zero": false}},
       "x2": {"field": "h2"}, "y2": {"field": "p2"}}},
    {"data": {"values": [{"p": 1.31184}]}, "mark": {"type": "rect", "width": 47, "height": 16, "color": "#2c3e66", "cornerRadius": 2},
     "encoding": {
       "x": {"datum": 136.0, "type": "quantitative", "scale": {"domain": [-0.66, 133.72], "nice": false, "zero": false}, "axis": null},
       "y": {"field": "p", "type": "quantitative", "scale": {"domain": [1.3035, 1.32273], "nice": false, "zero": false}}}},
    {"data": {"values": [{"p": 1.31184}]}, "mark": {"type": "text", "color": "#ffffff", "fontWeight": "bold", "fontSize": 12, "font": "Liberation Sans", "align": "center", "baseline": "middle"},
     "encoding": {
       "text": {"field": "p", "type": "quantitative", "format": ".5f"},
       "x": {"datum": 136.0, "type": "quantitative", "scale": {"domain": [-0.66, 133.72], "nice": false, "zero": false}, "axis": null},
       "y": {"field": "p", "type": "quantitative", "scale": {"domain": [1.3035, 1.32273], "nice": false, "zero": false}}}}
  ]
},
{
  "width": 1635, "height": 124,
  "layer": [
    {"data": {"name": "days"}, "mark": {"type": "rule", "color": "#e3e3e3", "strokeWidth": 1},
     "encoding": {"x": {"field": "h", "type": "quantitative", "scale": {"domain": [-0.66, 133.72], "nice": false, "zero": false}, "axis": null}}},
    {"data": {"values": [{"a": -0.66, "b": 132.24, "lo": 70, "hi": 100}]}, "mark": {"type": "rect", "color": "#7cfa7c", "opacity": 0.92, "stroke": "#000000", "strokeWidth": 0.8, "strokeDash": [3, 1]},
     "encoding": {
       "x": {"field": "a", "type": "quantitative", "scale": {"domain": [-0.66, 133.72], "nice": false, "zero": false}, "axis": null}, "x2": {"field": "b"},
       "y": {"field": "lo", "type": "quantitative", "scale": {"domain": [0, 101], "nice": false, "zero": false},
             "axis": {"orient": "right", "title": null, "values": [0, 20, 40, 60, 80], "format": ".4f", "grid": true, "labelOverlap": false, "labelSeparation": -20}},
       "y2": {"field": "hi"}}},
    {"data": {"values": [{"a": -0.66, "b": 132.24, "lo": 0, "hi": 30}]}, "mark": {"type": "rect", "color": "#f97b7b", "opacity": 0.92, "stroke": "#000000", "strokeWidth": 0.8, "strokeDash": [3, 1]},
     "encoding": {
       "x": {"field": "a", "type": "quantitative", "scale": {"domain": [-0.66, 133.72], "nice": false, "zero": false}, "axis": null}, "x2": {"field": "b"},
       "y": {"field": "lo", "type": "quantitative", "scale": {"domain": [0, 101], "nice": false, "zero": false},
             "axis": {"orient": "right", "title": null, "values": [0, 20, 40, 60, 80], "format": ".4f", "grid": true, "labelOverlap": false, "labelSeparation": -20}},
       "y2": {"field": "hi"}}},
    {"data": {"name": "rsi"}, "mark": {"type": "line", "strokeWidth": 1},
     "encoding": {
       "x": {"field": "h", "type": "quantitative", "scale": {"domain": [-0.66, 133.72], "nice": false, "zero": false}, "axis": null},
       "y": {"field": "v", "type": "quantitative", "scale": {"domain": [0, 101], "nice": false, "zero": false},
             "axis": {"orient": "right", "title": null, "values": [0, 20, 40, 60, 80], "format": ".4f", "grid": true, "labelOverlap": false, "labelSeparation": -20}},
       "color": {"datum": "RSI (14,70,30,1)", "type": "nominal", "scale": {"range": ["#1b3ff2"]},
         "legend": {"title": null, "orient": "top-left", "offset": 4, "symbolType": "M-1,-1H-0.8V1H-1Z", "labelExpr": "datum.label + '\u2002\u2002\u2002'"}}}}
  ]
},
{
  "width": 1635, "height": 89,
  "layer": [
    {"data": {"name": "days"}, "mark": {"type": "rule", "color": "#e3e3e3", "strokeWidth": 1},
     "encoding": {"x": {"field": "h", "type": "quantitative", "scale": {"domain": [-0.66, 133.72], "nice": false, "zero": false}, "axis": null}}},
    {"data": {"values": [{"a": -0.66, "b": 132.24, "lo": 80, "hi": 100}]}, "mark": {"type": "rect", "color": "#7cfa7c", "opacity": 0.92, "stroke": "#000000", "strokeWidth": 0.8, "strokeDash": [3, 1]},
     "encoding": {
       "x": {"field": "a", "type": "quantitative", "scale": {"domain": [-0.66, 133.72], "nice": false, "zero": false}, "axis": null}, "x2": {"field": "b"},
       "y": {"field": "lo", "type": "quantitative", "scale": {"domain": [-0.35, 103.1], "nice": false, "zero": false},
             "axis": {"orient": "right", "title": null, "values": [0, 50], "format": ".4f", "grid": false, "labelOverlap": false}},
       "y2": {"field": "hi"}}},
    {"data": {"values": [{"a": -0.66, "b": 132.24, "lo": 0, "hi": 20}]}, "mark": {"type": "rect", "color": "#f97b7b", "opacity": 0.92, "stroke": "#000000", "strokeWidth": 0.8, "strokeDash": [3, 1]},
     "encoding": {
       "x": {"field": "a", "type": "quantitative", "scale": {"domain": [-0.66, 133.72], "nice": false, "zero": false}, "axis": null}, "x2": {"field": "b"},
       "y": {"field": "lo", "type": "quantitative", "scale": {"domain": [-0.35, 103.1], "nice": false, "zero": false}},
       "y2": {"field": "hi"}}},
    {"data": {"values": [{"p": 50}]}, "mark": {"type": "rule", "color": "#333333", "strokeWidth": 1},
     "encoding": {"y": {"field": "p", "type": "quantitative", "scale": {"domain": [-0.35, 103.1], "nice": false, "zero": false}}}},
    {"data": {"name": "sto"}, "mark": {"type": "line", "strokeWidth": 1.2, "color": "#1b3ff2", "interpolate": "monotone"},
     "encoding": {
       "x": {"field": "h", "type": "quantitative", "scale": {"domain": [-0.66, 133.72], "nice": false, "zero": false}, "axis": null},
       "y": {"field": "d", "type": "quantitative", "scale": {"domain": [-0.35, 103.1], "nice": false, "zero": false}}}},
    {"data": {"name": "sto"}, "mark": {"type": "line", "strokeWidth": 1.2, "interpolate": "monotone"},
     "encoding": {
       "x": {"field": "h", "type": "quantitative", "scale": {"domain": [-0.66, 133.72], "nice": false, "zero": false}, "axis": null},
       "y": {"field": "k", "type": "quantitative", "scale": {"domain": [-0.35, 103.1], "nice": false, "zero": false}},
       "color": {"datum": "FUSTO (14,3,3,80,20)", "type": "nominal", "scale": {"range": ["#ff1010"]},
         "legend": {"title": null, "orient": "top-left", "offset": 4, "symbolType": "M-1,-1H-0.8V1H-1Z", "labelExpr": "datum.label + '\u2002\u2002\u2002'"}}}}
  ]
},
{
  "width": 1635, "height": 78,
  "encoding": {
    "x": {"field": "h", "type": "quantitative", "scale": {"domain": [-0.66, 133.72], "nice": false, "zero": false},
      "axis": {"orient": "bottom", "title": null, "labelOverlap": false, "labelFlush": false, "labelBound": false, "grid": false, "tickSize": 4,
        "values": [0,3,6,9,12,15,18,21,24,27,30,33,36,39,42,45,48,51,54,57,60,63,66,69,72,75,78,81,84,87,90,93,96,99,102,105,108,111,114,117,120,122.75,125.5,128.25,131],
        "labelExpr": "datum.value == 117 ? 'Sun' : datum.value == 120 ? 'Mon' : datum.value == 122.75 ? '02:45' : datum.value == 125.5 ? '05:30' : datum.value == 128.25 ? '08:15' : datum.value == 131 ? '11:00' : datum.value % 24 == 0 ? ['Mon','Tue','Wed','Thu','Fri'][datum.value / 24] : (datum.value % 24 < 10 ? '0' : '') + (datum.value % 24) + ':00'"}}
  },
  "layer": [
    {"data": {"name": "days"}, "mark": {"type": "rule", "color": "#e3e3e3", "strokeWidth": 1}},
    {"data": {"name": "macd"}, "mark": {"type": "bar", "width": 11},
     "encoding": {
       "y": {"field": "b", "type": "quantitative", "scale": {"domain": [-0.001456, 0.001085], "nice": false, "zero": false},
             "axis": {"orient": "right", "title": null, "values": [0, -0.001], "grid": true, "labelOverlap": false, "labelExpr": "datum.value == 0 ? '-0.0000' : '-0.0010'"}},
       "y2": {"datum": 0},
       "color": {"condition": {"test": "datum.b >= 0", "value": "#11e011"}, "value": "#ff1010"}}},
    {"data": {"name": "macd"}, "mark": {"type": "line", "strokeWidth": 1.2, "color": "#ff7f27", "interpolate": "monotone"},
     "encoding": {
       "y": {"field": "s", "type": "quantitative", "scale": {"domain": [-0.001456, 0.001085], "nice": false, "zero": false}}}},
    {"data": {"name": "macd"}, "mark": {"type": "line", "strokeWidth": 1.2, "interpolate": "monotone"},
     "encoding": {
       "y": {"field": "m", "type": "quantitative", "scale": {"domain": [-0.001456, 0.001085], "nice": false, "zero": false}},
       "color": {"datum": "MACD (12,26,9)", "type": "nominal", "scale": {"range": ["#1b3ff2"]},
         "legend": {"title": null, "orient": "top-left", "offset": 4, "symbolType": "M-1,-1H-0.8V1H-1Z", "labelExpr": "datum.label + '\u2002\u2002\u2002'"}}}}
  ]
}
]
}
